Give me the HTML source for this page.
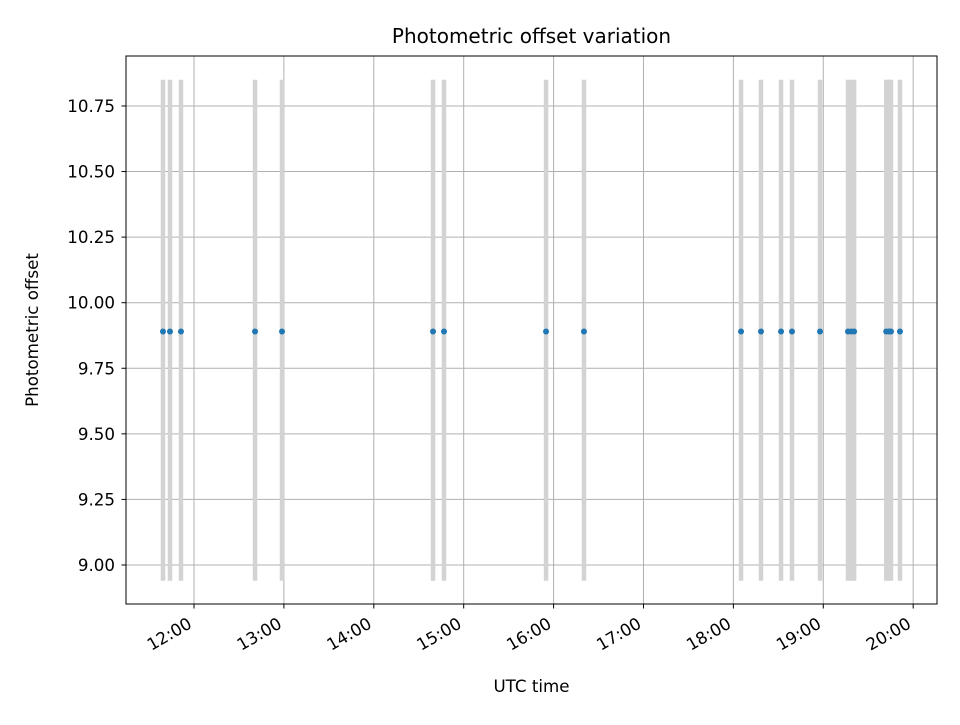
<!DOCTYPE html>
<html><head><meta charset="utf-8"><style>body{margin:0;background:#fff}svg{font-family:"DejaVu Sans","Liberation Sans",sans-serif}</style></head>
<body>
<svg id="chart" width="960" height="720" xmlns="http://www.w3.org/2000/svg">
<rect width="960" height="720" fill="#fff"/>
<text x="531.5" y="43" text-anchor="middle" font-size="20">Photometric offset variation</text>
<g id="grid"></g><g id="bars"></g><g id="pts"></g>
<rect x="126" y="56" width="811" height="548" fill="none" stroke="#000" stroke-width="1"/>
<g id="axes"></g>
<text x="531.5" y="692" text-anchor="middle" font-size="16.7">UTC time</text>
<text transform="translate(38,330) rotate(-90)" text-anchor="middle" font-size="16.7">Photometric offset</text>
</svg>
<script>
const times=[11.655,11.733,11.855,12.679,12.979,14.659,14.781,15.916,16.338,18.085,18.307,18.530,18.652,18.964,19.275,19.31,19.343,19.70,19.73,19.753,19.853];
const offsets=[9.89,9.89,9.89,9.89,9.89,9.89,9.89,9.89,9.89,9.89,9.89,9.89,9.89,9.89,9.89,9.89,9.89,9.89,9.89,9.89,9.89];
const errLow=[8.94,8.94,8.94,8.94,8.94,8.94,8.94,8.94,8.94,8.94,8.94,8.94,8.94,8.94,8.94,8.94,8.94,8.94,8.94,8.94,8.94];
const errHigh=[10.85,10.85,10.85,10.85,10.85,10.85,10.85,10.85,10.85,10.85,10.85,10.85,10.85,10.85,10.85,10.85,10.85,10.85,10.85,10.85,10.85];
const xTicks=[12,13,14,15,16,17,18,19,20];
const xTickLabels=["12:00","13:00","14:00","15:00","16:00","17:00","18:00","19:00","20:00"];
const yTicks=[9.0,9.25,9.5,9.75,10.0,10.25,10.5,10.75];
const yTickLabels=["9.00","9.25","9.50","9.75","10.00","10.25","10.50","10.75"];
const X=h=>126+(h-11.2436)/(20.265-11.2436)*811;
const Y=v=>604-(v-8.8513)/(10.9405-8.8513)*548;
const NS="http://www.w3.org/2000/svg";
function mk(t,a,p){const e=document.createElementNS(NS,t);for(const k in a)e.setAttribute(k,a[k]);document.getElementById(p).appendChild(e);return e;}
xTicks.forEach((t,i)=>{const x=X(t);
 const g=mk('line',{x1:x,x2:x,y1:56,y2:604,stroke:'#b0b0b0','stroke-width':1},'grid');
 
 const tk=mk('line',{x1:x,x2:x,y1:604,y2:608.5,stroke:'#000'},'axes');
 
 const l=mk('text',{transform:`translate(${x-1},${627}) rotate(-30)`,'text-anchor':'end','font-size':16.7},'axes');
 l.textContent=xTickLabels[i];});
yTicks.forEach((t,i)=>{const y=Y(t);
 const g=mk('line',{x1:126,x2:937,y1:y,y2:y,stroke:'#b0b0b0','stroke-width':1},'grid');
 
 const tk=mk('line',{x1:121.5,x2:126,y1:y,y2:y,stroke:'#000'},'axes');
 
 const l=mk('text',{x:115,y:y+6,'text-anchor':'end','font-size':16.7},'axes');
 l.textContent=yTickLabels[i];});
times.forEach((t,i)=>{const x=X(t);
 const b=mk('line',{x1:x,x2:x,y1:Y(errHigh[i]),y2:Y(errLow[i]),stroke:'#d3d3d3','stroke-width':4.5},'bars');
 
 const c=mk('circle',{cx:x,cy:Y(offsets[i]),r:3,fill:'#1f77b4'},'pts');
 });
</script>
</body></html>
